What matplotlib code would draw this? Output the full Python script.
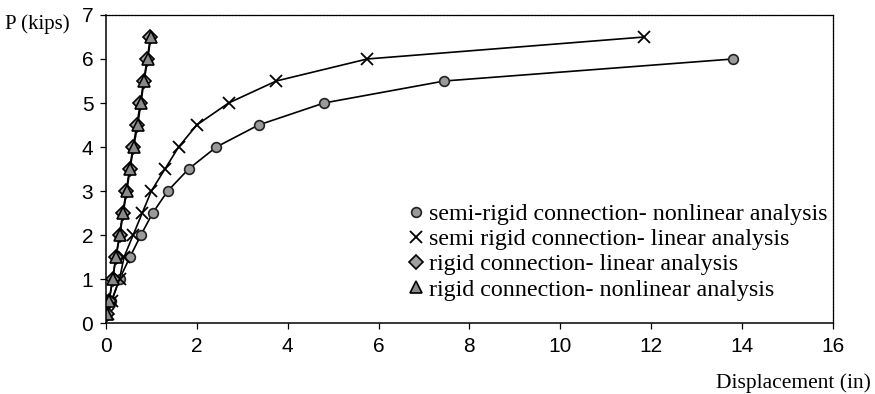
import matplotlib
matplotlib.use("Agg")
import matplotlib.pyplot as plt

# load P (kips) vs displacement (in)
semi_nl_disp = [0.0, 0.12, 0.3, 0.53, 0.77, 1.03, 1.36, 1.82, 2.43, 3.36, 4.8, 7.45, 13.8]
semi_nl_load = [0.2, 0.5, 1.0, 1.5, 2.0, 2.5, 3.0, 3.5, 4.0, 4.5, 5.0, 5.5, 6.0]

semi_lin_disp = [0.05, 0.13, 0.3, 0.4, 0.6, 0.8, 1.0, 1.3, 1.6, 2.0, 2.7, 3.75, 5.75, 11.85]
semi_lin_load = [0.2, 0.5, 1.0, 1.5, 2.0, 2.5, 3.0, 3.5, 4.0, 4.5, 5.0, 5.5, 6.0, 6.5]

rigid_lin_disp = [0.03, 0.07, 0.15, 0.22, 0.3, 0.37, 0.45, 0.52, 0.6, 0.68, 0.76, 0.83, 0.91, 0.98]
rigid_lin_load = [0.2, 0.5, 1.0, 1.5, 2.0, 2.5, 3.0, 3.5, 4.0, 4.5, 5.0, 5.5, 6.0, 6.5]

rigid_nl_disp = [0.03, 0.07, 0.15, 0.22, 0.31, 0.38, 0.46, 0.53, 0.61, 0.7, 0.77, 0.84, 0.92, 0.99]
rigid_nl_load = [0.2, 0.5, 1.0, 1.5, 2.0, 2.5, 3.0, 3.5, 4.0, 4.5, 5.0, 5.5, 6.0, 6.5]

SERIF = "Liberation Serif"
SANS = "Liberation Sans"

fig = plt.figure(figsize=(8.75, 3.94), dpi=100)
ax = fig.add_axes([0.121, 0.18, 0.831, 0.782])

ax.plot(semi_nl_disp, semi_nl_load, color="black", lw=1.2, marker="o", ms=7,
        mfc="#9a9a9a", mec="#222222", mew=1.2,
        label="semi-rigid connection- nonlinear analysis")
ax.plot(semi_lin_disp, semi_lin_load, color="black", lw=1.2, marker="x", ms=9,
        mec="black", mew=1.3, label="semi rigid connection- linear analysis")
ax.plot(rigid_lin_disp, rigid_lin_load, color="black", lw=1.2, marker="D", ms=7,
        mfc="#a0a0a0", mec="black", mew=1.2,
        label="rigid connection- linear analysis")
ax.plot(rigid_nl_disp, rigid_nl_load, color="black", lw=1.2, marker="^", ms=9,
        mfc="#8a8a8a", mec="black", mew=1.2,
        label="rigid connection- nonlinear analysis")

ax.set_xlim(0, 16)
ax.set_ylim(0, 7)
ax.set_xticks(range(0, 17, 2))
ax.set_yticks(range(0, 8))

for side in ("top", "right"):
    ax.spines[side].set_linestyle((0, (2, 0.6)))
    ax.spines[side].set_linewidth(0.9)
for side in ("left", "bottom"):
    ax.spines[side].set_linewidth(1.1)

ax.tick_params(direction="out", length=4, width=0.9)
ax.tick_params(axis="x", pad=6)
ax.tick_params(axis="y", pad=5)
for lbl in ax.get_xticklabels() + ax.get_yticklabels():
    lbl.set_fontfamily(SANS)
    lbl.set_fontsize(15)

leg = ax.legend(loc="upper left", bbox_to_anchor=(0.4, 0.42), frameon=False,
                prop={"family": SERIF, "size": 17.3}, handlelength=0.8,
                handletextpad=0.15, labelspacing=0.14, borderaxespad=0)
for h in leg.legend_handles:
    h.set_linestyle("none")

fig.text(0.006, 0.94, "P (kips)", family=SERIF, fontsize=15, ha="left", va="center")
fig.text(0.995, 0.028, "Displacement (in)", family=SERIF, fontsize=15.5, ha="right", va="center")

fig.savefig("out.png", dpi=100)
